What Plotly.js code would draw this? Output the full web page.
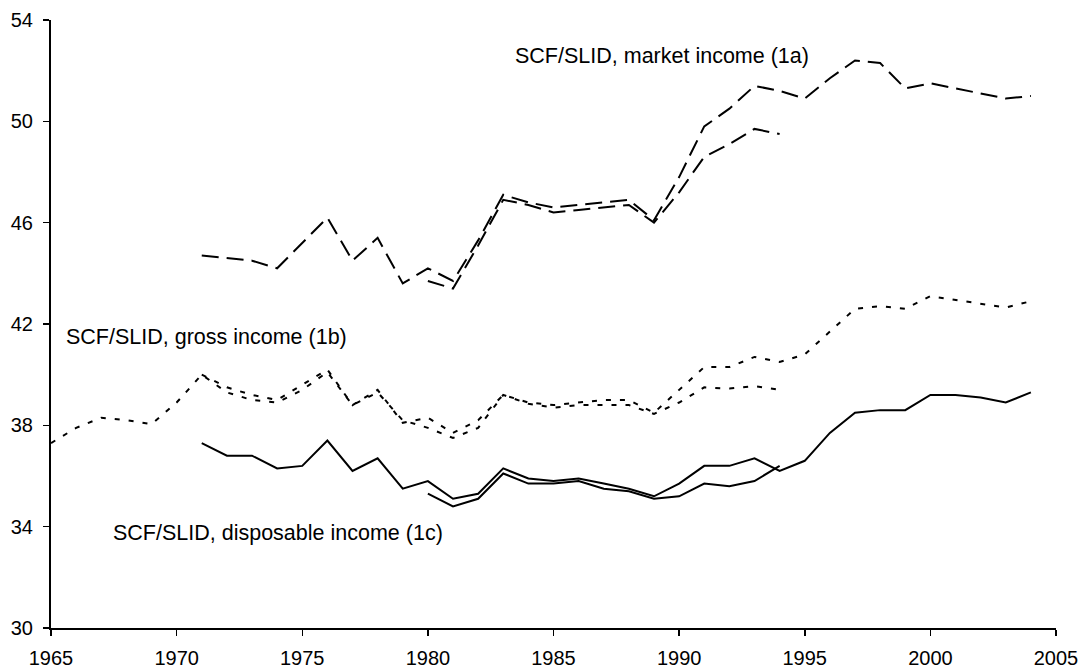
<!DOCTYPE html>
<html>
<head>
<meta charset="utf-8">
<script src="https://cdn.plot.ly/plotly-3.0.1.min.js"></script>
<style>html,body{margin:0;padding:0;background:#fff;}#chart{width:1086px;height:671px;}</style>
</head>
<body>
<div id="chart"></div>
<script>
// Market income (1a)
const marketLongYears = [1971,1972,1973,1974,1975,1976,1977,1978,1979,1980,1981,1982,1983,1984,1985,1986,1987,1988,1989,1990,1991,1992,1993,1994,1995,1996,1997,1998,1999,2000,2001,2002,2003,2004];
const marketLong = [44.7,44.6,44.5,44.2,45.2,46.2,44.5,45.4,43.6,44.2,43.7,45.3,47.1,46.8,46.6,46.7,46.8,46.9,46.1,47.8,49.8,50.5,51.4,51.2,50.9,51.7,52.4,52.3,51.3,51.5,51.3,51.1,50.9,51.0];
const marketShortYears = [1980,1981,1982,1983,1984,1985,1986,1987,1988,1989,1990,1991,1992,1993,1994];
const marketShort = [43.7,43.4,45.1,46.9,46.7,46.4,46.5,46.6,46.7,46.0,47.2,48.6,49.1,49.7,49.5];

// Gross income (1b)
const grossLongYears = [1971,1972,1973,1974,1975,1976,1977,1978,1979,1980,1981,1982,1983,1984,1985,1986,1987,1988,1989,1990,1991,1992,1993,1994,1995,1996,1997,1998,1999,2000,2001,2002,2003,2004];
const grossLong = [40.0,39.5,39.2,39.0,39.6,40.2,38.8,39.4,38.1,38.3,37.7,38.2,39.2,38.9,38.8,38.9,39.0,39.0,38.5,39.4,40.3,40.3,40.7,40.5,40.8,41.7,42.6,42.7,42.6,43.1,42.95,42.8,42.65,42.9];
const grossShortYears = [1965,1966,1967,1968,1969,1970,1971,1972,1973,1974,1975,1976,1977,1978,1979,1980,1981,1982,1983,1984,1985,1986,1987,1988,1989,1990,1991,1992,1993,1994];
const grossShort = [37.3,37.9,38.3,38.2,38.05,38.9,40.0,39.3,39.0,38.9,39.4,40.1,38.8,39.3,38.2,37.9,37.5,37.9,39.2,38.85,38.7,38.8,38.8,38.8,38.45,38.9,39.5,39.45,39.55,39.4];

// Disposable income (1c)
const dispLongYears = [1971,1972,1973,1974,1975,1976,1977,1978,1979,1980,1981,1982,1983,1984,1985,1986,1987,1988,1989,1990,1991,1992,1993,1994,1995,1996,1997,1998,1999,2000,2001,2002,2003,2004];
const dispLong = [37.3,36.8,36.8,36.3,36.4,37.4,36.2,36.7,35.5,35.8,35.1,35.3,36.3,35.9,35.8,35.9,35.7,35.5,35.2,35.7,36.4,36.4,36.7,36.2,36.6,37.7,38.5,38.6,38.6,39.2,39.2,39.1,38.9,39.3];
const dispShortYears = [1980,1981,1982,1983,1984,1985,1986,1987,1988,1989,1990,1991,1992,1993,1994];
const dispShort = [35.3,34.8,35.1,36.1,35.7,35.7,35.8,35.5,35.4,35.1,35.2,35.7,35.6,35.8,36.4];

const xTicks = [1965,1970,1975,1980,1985,1990,1995,2000,2005];
const yTicks = [30,34,38,42,46,50,54];
const labels = ["SCF/SLID, market income (1a)","SCF/SLID, gross income (1b)","SCF/SLID, disposable income (1c)"];

const longDash = "17px,8px";
const dotDash = "5px,9px";
function tr(x,y,dash){
  return {x:x,y:y,type:"scatter",mode:"lines",line:{color:"#000",width:2,dash:dash},hoverinfo:"skip",showlegend:false};
}
const data = [
  tr(marketLongYears,marketLong,longDash),
  tr(marketShortYears,marketShort,longDash),
  tr(grossShortYears,grossShort,dotDash),
  tr(grossLongYears,grossLong,dotDash),
  tr(dispLongYears,dispLong,"solid"),
  tr(dispShortYears,dispShort,"solid")
];
const fam = "Liberation Sans, Arial, sans-serif";
const tickFont = {family:fam,size:20,color:"#000"};
const annFont = {family:fam,size:21.5,color:"#000"};
const layout = {
  width:1086,height:671,
  margin:{l:51,r:30,t:20,b:43},
  paper_bgcolor:"#fff",plot_bgcolor:"#fff",
  font:tickFont,
  showlegend:false,
  xaxis:{range:[1965,2005],tickvals:xTicks,ticktext:xTicks.map(String),ticks:"outside",ticklen:6,tickwidth:1.5,tickcolor:"#000",
    ticklabelstandoff:5,
    showline:true,linecolor:"#000",linewidth:2,showgrid:false,zeroline:false,tickfont:tickFont,fixedrange:true},
  yaxis:{range:[30,54],tickvals:yTicks,ticktext:yTicks.map(String),ticks:"outside",ticklen:6,tickwidth:1.5,tickcolor:"#000",
    ticklabelstandoff:6,
    showline:true,linecolor:"#000",linewidth:2,showgrid:false,zeroline:false,tickfont:tickFont,fixedrange:true},
  annotations:[
    {x:1983.4,y:52.58,xref:"x",yref:"y",text:labels[0],showarrow:false,xanchor:"left",yanchor:"middle",font:annFont},
    {x:1965.5,y:41.49,xref:"x",yref:"y",text:labels[1],showarrow:false,xanchor:"left",yanchor:"middle",font:annFont},
    {x:1967.4,y:33.75,xref:"x",yref:"y",text:labels[2],showarrow:false,xanchor:"left",yanchor:"middle",font:annFont}
  ]
};
Plotly.newPlot("chart",data,layout,{displayModeBar:false,staticPlot:true});
</script>
</body>
</html>
